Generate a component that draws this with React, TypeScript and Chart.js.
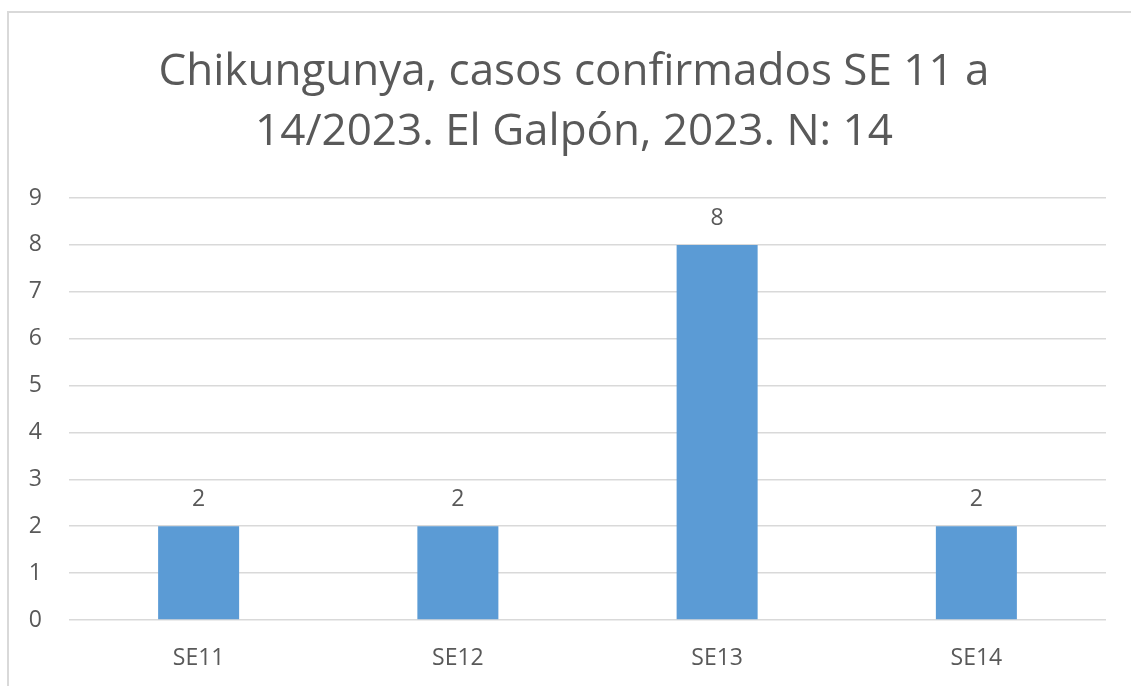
import React, { useEffect, useRef } from "react";
import { Chart, registerables } from "chart.js";

Chart.register(...registerables);

const categories = ["SE11", "SE12", "SE13", "SE14"];
const cases = [2, 2, 8, 2];
const titleLines = ["Chikungunya, casos confirmados SE 11 a", "14/2023. El Galpón, 2023. N: 14"];
const yMax = 9;

const FONT = "'Open Sans', sans-serif";
const TEXT_COLOR = "#595959";

export default function App() {
  const ref = useRef<HTMLCanvasElement | null>(null);

  useEffect(() => {
    const canvas = ref.current;
    if (!canvas) return;

    const overlay = {
      id: "overlay",
      afterDatasetsDraw(chart: any) {
        const ctx = chart.ctx;
        ctx.save();
        ctx.fillStyle = TEXT_COLOR;
        ctx.font = `23px ${FONT}`;
        ctx.textAlign = "center";
        ctx.textBaseline = "alphabetic";
        const meta = chart.getDatasetMeta(0);
        meta.data.forEach((bar: any, i: number) => {
          ctx.fillText(String(cases[i]), bar.x, bar.y - 20);
        });
        ctx.restore();
      },
      afterDraw(chart: any) {
        const ctx = chart.ctx;
        ctx.save();
        ctx.fillStyle = TEXT_COLOR;
        ctx.font = `44px ${FONT}`;
        ctx.textAlign = "center";
        ctx.textBaseline = "alphabetic";
        ctx.fillText(titleLines[0], 574, 85);
        ctx.fillText(titleLines[1], 574, 145);
        ctx.restore();
      },
    };

    const chart = new Chart(canvas, {
      type: "bar",
      data: {
        labels: categories,
        datasets: [
          {
            data: cases,
            backgroundColor: "#5b9bd5",
            borderWidth: 0,
            categoryPercentage: 1,
            barPercentage: 0.3125,
          },
        ],
      },
      options: {
        animation: false,
        responsive: false,
        maintainAspectRatio: false,
        layout: { padding: { top: 198, left: 0, right: 25, bottom: 0 } },
        plugins: {
          legend: { display: false },
          title: { display: false },
          tooltip: { enabled: false },
        },
        scales: {
          x: {
            grid: { display: false, drawTicks: false },
            border: { display: false },
            ticks: {
              color: TEXT_COLOR,
              font: { family: FONT, size: 23 },
              padding: 25,
            },
            afterFit(scale: any) {
              scale.height = 66;
            },
          },
          y: {
            min: 0,
            max: yMax,
            grid: { color: "#d9d9d9", lineWidth: 1.5, drawTicks: false },
            border: { display: false },
            ticks: {
              stepSize: 1,
              color: TEXT_COLOR,
              font: { family: FONT, size: 23 },
              padding: 27,
            },
            afterFit(scale: any) {
              scale.width = 69;
            },
          },
        },
      },
      plugins: [overlay],
    });

    return () => chart.destroy();
  }, []);

  return (
    <div
      style={{
        position: "fixed",
        left: 0,
        top: 0,
        width: 1131,
        height: 686,
        overflow: "hidden",
        background: "#ffffff",
      }}
    >
      <div
        style={{
          position: "absolute",
          left: 7,
          top: 11,
          width: 1200,
          height: 800,
          border: "2px solid #d9d9d9",
        }}
      />
      <canvas
        ref={ref}
        width={1131}
        height={686}
        style={{ position: "absolute", left: 0, top: 0, width: 1131, height: 686 }}
      />
    </div>
  );
}
